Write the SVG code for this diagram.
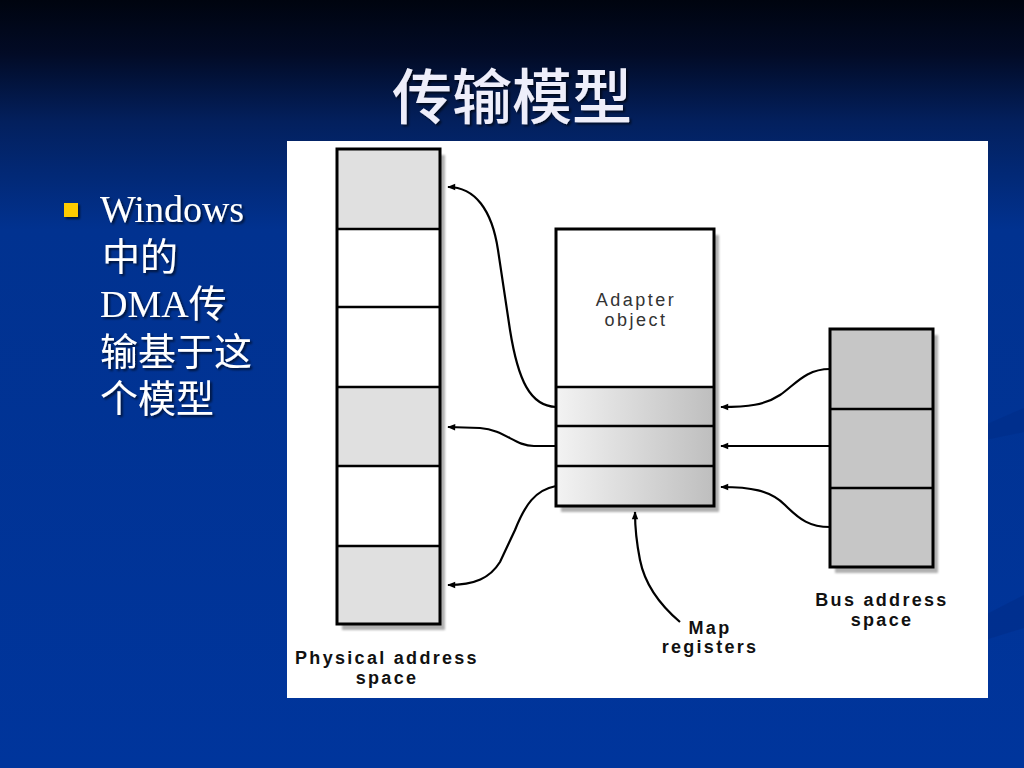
<svg xmlns="http://www.w3.org/2000/svg" width="1024" height="768" viewBox="0 0 1024 768">
<defs>
<linearGradient id="bg" x1="0" y1="0" x2="0" y2="1">
<stop offset="0" stop-color="#00040f"/>
<stop offset="0.07" stop-color="#020b26"/>
<stop offset="0.16" stop-color="#03205e"/>
<stop offset="0.3" stop-color="#013290"/>
<stop offset="1" stop-color="#00359c"/>
</linearGradient>
<linearGradient id="reg" x1="0" y1="0" x2="1" y2="0">
<stop offset="0" stop-color="#f3f3f3"/>
<stop offset="1" stop-color="#bebebe"/>
</linearGradient>
<filter id="ts" x="-10%" y="-10%" width="130%" height="130%">
<feDropShadow dx="2" dy="2" stdDeviation="0.8" flood-color="#000" flood-opacity="0.6"/>
</filter>
<filter id="bs" x="-10%" y="-10%" width="130%" height="130%">
<feGaussianBlur stdDeviation="1"/>
</filter>
<marker id="ah" viewBox="0 0 10 10" refX="9" refY="5" markerWidth="9" markerHeight="8" markerUnits="userSpaceOnUse" orient="auto">
<path d="M0,1 L10,5 L0,9 Z" fill="#000"/>
</marker>
<style>
.box{stroke:#000;stroke-width:3}
.div{stroke:#000;stroke-width:2.5}
.shd{fill:#b0b0b0}
.conn{fill:none;stroke:#000;stroke-width:2.2}
.lbl{font-family:"Liberation Sans",Arial,sans-serif;font-size:18px;font-weight:bold;fill:#111;letter-spacing:2.3px;text-anchor:middle}
.thin{font-family:"Liberation Sans",Arial,sans-serif;font-size:18px;fill:#333;letter-spacing:2.5px;text-anchor:middle}
.body{font-family:"Liberation Serif","Noto Sans CJK SC",serif;font-size:38px;fill:#fff}
</style>
</defs>
<rect width="1024" height="768" fill="url(#bg)"/>
<path d="M985,425 L1024,408 L1024,432 L985,440 Z" fill="#002d88" opacity="0.6"/>
<path d="M985,615 L1024,595 L1024,628 L985,640 Z" fill="#002d88" opacity="0.6"/>

<g id="title">
<text x="512" y="119" text-anchor="middle" font-family="'Noto Sans CJK SC',sans-serif" font-size="60" font-weight="500" fill="#eeeefa" filter="url(#ts)">传输模型</text>
</g>

<g id="bullet-text" filter="url(#ts)">
<rect x="64" y="203" width="14" height="14" fill="#ffcc00"/>
<text class="body" x="100" y="222">Windows</text>
<text class="body" x="102" y="270">中的</text>
<text class="body" x="100" y="317">DMA传</text>
<text class="body" x="100" y="365">输基于这</text>
<text class="body" x="100" y="412">个模型</text>
</g>

<rect id="panel" x="287" y="141" width="701" height="557" fill="#fff"/>

<g id="physical">
<rect class="shd" x="342" y="155" width="103" height="475" filter="url(#bs)"/>
<rect x="337" y="149" width="103" height="475" fill="#fff"/>
<rect x="337" y="149" width="103" height="80" fill="#e0e0e0"/>
<rect x="337" y="387" width="103" height="79" fill="#e0e0e0"/>
<rect x="337" y="546" width="103" height="78" fill="#e0e0e0"/>
<line class="div" x1="337" y1="229" x2="440" y2="229"/>
<line class="div" x1="337" y1="307" x2="440" y2="307"/>
<line class="div" x1="337" y1="387" x2="440" y2="387"/>
<line class="div" x1="337" y1="466" x2="440" y2="466"/>
<line class="div" x1="337" y1="546" x2="440" y2="546"/>
<rect class="box" x="337" y="149" width="103" height="475" fill="none"/>
<text class="lbl" x="387" y="664">Physical address</text>
<text class="lbl" x="387" y="684">space</text>
</g>

<g id="adapter">
<rect class="shd" x="561" y="235" width="158" height="277" filter="url(#bs)"/>
<rect x="556" y="229" width="158" height="277" fill="#fff"/>
<rect x="556" y="387" width="158" height="119" fill="url(#reg)"/>
<line class="div" x1="556" y1="387" x2="714" y2="387"/>
<line class="div" x1="556" y1="426" x2="714" y2="426"/>
<line class="div" x1="556" y1="466" x2="714" y2="466"/>
<rect class="box" x="556" y="229" width="158" height="277" fill="none"/>
<text class="thin" x="636" y="306">Adapter</text>
<text class="thin" x="636" y="326">object</text>
</g>

<g id="bus">
<rect class="shd" x="835" y="335" width="103" height="238" filter="url(#bs)"/>
<rect x="830" y="329" width="103" height="238" fill="#c6c6c6"/>
<line class="div" x1="830" y1="409" x2="933" y2="409"/>
<line class="div" x1="830" y1="488" x2="933" y2="488"/>
<rect class="box" x="830" y="329" width="103" height="238" fill="none"/>
<text class="lbl" x="882" y="606">Bus address</text>
<text class="lbl" x="882" y="626">space</text>
</g>

<g id="map-label">
<text class="lbl" x="710" y="634">Map</text>
<text class="lbl" x="710" y="653">registers</text>
</g>

<g id="connectors">
<path class="conn" marker-end="url(#ah)" d="M556,407 C530,406 518,380 510,330 L498,250 C492,210 475,187 448,187"/>
<path class="conn" marker-end="url(#ah)" d="M556,446 L534,446 C515,446 505,430 480,428 L448,427"/>
<path class="conn" marker-end="url(#ah)" d="M556,486 C535,490 525,505 515,530 L500,562 C490,578 475,585 448,585"/>
<path class="conn" marker-end="url(#ah)" d="M830,369 C805,369 795,385 780,395 C765,405 748,407 721,407"/>
<path class="conn" marker-end="url(#ah)" d="M830,446 L721,446"/>
<path class="conn" marker-end="url(#ah)" d="M830,527 C810,527 800,520 785,505 C770,490 750,487 721,487"/>
<path class="conn" marker-end="url(#ah)" d="M680,622 C660,605 645,585 640,560 C636,540 635,530 635,512"/>
</g>
</svg>
